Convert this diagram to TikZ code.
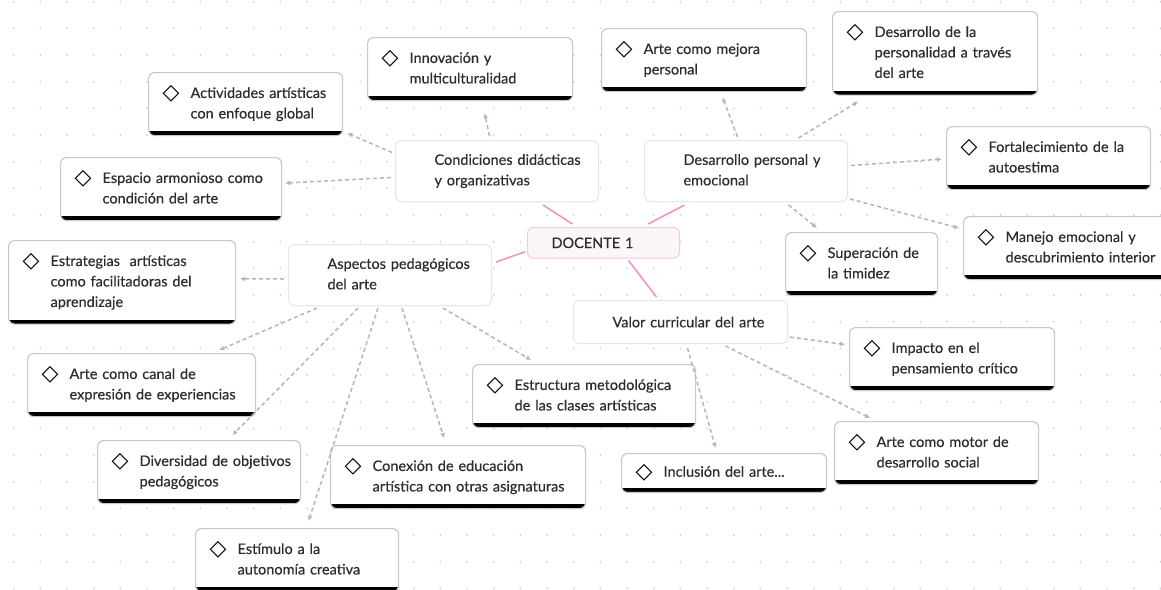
\documentclass[tikz,border=0pt]{standalone}
\usepackage{fontspec}
\setmainfont{Lato}[FakeBold=0.35]
\newfontfamily\symfont{DejaVu Sans}
\usetikzlibrary{arrows.meta}
\definecolor{inkgray}{RGB}{45, 45, 45}
\definecolor{dotgray}{RGB}{214, 214, 214}
\definecolor{leafborder}{RGB}{200, 200, 200}
\definecolor{topicborder}{RGB}{230, 230, 232}
\definecolor{rootpink}{RGB}{246, 200, 222}
\definecolor{rootfill}{RGB}{253, 246, 249}
\definecolor{linkpink}{RGB}{238, 150, 200}
\definecolor{arrowgray}{RGB}{180, 180, 198}
\tikzstyle{leaf}=[shape=rectangle, rounded corners=6pt, draw=leafborder, line width=1.2pt, fill=white, anchor=north west, align=left, inner xsep=14pt, inner ysep=11pt, path picture={\fill[black, sharp corners] (path picture bounding box.south west) rectangle ([yshift=4.5pt]path picture bounding box.south east);}]
\tikzstyle{topic}=[shape=rectangle, rounded corners=6pt, draw=topicborder, line width=1pt, fill=white, anchor=north west, align=left, inner xsep=14pt, inner ysep=10pt]
\tikzstyle{root}=[topic, draw=rootpink, fill=rootfill]
\tikzstyle{arrow}=[line width=1.5pt, dash pattern=on 4pt off 3pt, -{Latex[length=5pt, width=5pt]}, color=arrowgray]
\tikzstyle{link}=[line width=1.6pt, color=linkpink]
\newcommand{\dmd}{\makebox[28pt][l]{\raisebox{-2pt}{\symfont\fontsize{22}{22}\selectfont\color{black}\char"25C7}}}
\newcommand{\stack}[1]{\begin{tabular}[t]{@{}l@{}}#1\end{tabular}}

\begin{document}
\begin{tikzpicture}[x=1pt, y=-1pt, font=\fontsize{14.5}{20.5}\selectfont, text=inkgray]
    \fill[white] (0,0) rectangle (1161,589);
    \useasboundingbox (0,0) rectangle (1161,589);
    % Dotted canvas
    \foreach \i in {0,...,43}
        \foreach \j in {0,...,22}
            \fill[dotgray] (13.7+26.67*\i, 1.7+26.67*\j) circle (1.1pt);

    % Centre and main topics
    \node[root, text width=124pt] (docente) at (527,227) {\hspace*{10pt}DOCENTE 1};
    \node[topic, text width=175pt] (cond) at (395,140) {\hspace*{25pt}\stack{Condiciones didácticas\\y organizativas}};
    \node[topic, text width=175pt] (despers) at (644,140) {\hspace*{25pt}\stack{Desarrollo personal y\\emocional}};
    \node[topic, text width=175pt] (aspectos) at (288,244) {\hspace*{25pt}\stack{Aspectos pedagógicos\\del arte}};
    \node[topic, text width=186pt, minimum height=43pt] (valor) at (573,300) {\hspace*{25pt}Valor curricular del arte};

    % Leaves of the didactic conditions
    \node[leaf, text width=177pt] (innov) at (367,37) {\dmd\stack{Innovación y\\multiculturalidad}};
    \node[leaf, text width=166pt] (activ) at (148,72) {\dmd\stack{Actividades artísticas\\con enfoque global}};
    \node[leaf, text width=193pt] (espacio) at (60,157) {\dmd\stack{Espacio armonioso como\\condición del arte}};

    % Leaves of personal development
    \node[leaf, text width=177pt] (mejora) at (601,28) {\dmd\stack{Arte como mejora\\personal}};
    \node[leaf, text width=177pt] (personalidad) at (832,11) {\dmd\stack{Desarrollo de la\\personalidad a través\\del arte}};
    \node[leaf, text width=176pt] (autoestima) at (946,126) {\dmd\stack{Fortalecimiento de la\\autoestima}};
    \node[leaf, text width=124pt] (timidez) at (785,232) {\dmd\stack{Superación de\\la timidez}};
    \node[leaf, text width=184pt] (manejo) at (963,216) {\dmd\stack{Manejo emocional y\\descubrimiento interior}};

    % Leaves of the pedagogical aspects
    \node[leaf, text width=199pt] (estrategias) at (8,240) {\dmd\stack{Estrategias\ \ artísticas\\como facilitadoras del\\aprendizaje}};
    \node[leaf, text width=200pt] (canal) at (27,353) {\dmd\stack{Arte como canal de\\expresión de experiencias}};
    \node[leaf, text width=175pt] (diversidad) at (97,440) {\dmd\stack{Diversidad de objetivos\\pedagógicos}};
    \node[leaf, text width=227pt] (conexion) at (330,445) {\dmd\stack{Conexión de educación\\artística con otras asignaturas}};
    \node[leaf, text width=175pt] (estimulo) at (195,528) {\dmd\stack{Estímulo a la\\autonomía creativa}};
    \node[leaf, text width=195pt] (estructura) at (472,364) {\dmd\stack{Estructura metodológica\\de las clases artísticas}};

    % Leaves of the curricular value
    \node[leaf, text width=177pt] (inclusion) at (621,453) {\dmd Inclusión del arte...};
    \node[leaf, text width=177pt] (impacto) at (849,327) {\dmd\stack{Impacto en el\\pensamiento crítico}};
    \node[leaf, text width=176pt] (motor) at (834,421) {\dmd\stack{Arte como motor de\\desarrollo social}};

    % Links from the centre
    \draw[link] ([shift={(46,3)}]cond.south) -- ([shift={(-31,-3)}]docente.north);
    \draw[link] ([shift={(-61.5,3)}]despers.south) -- ([shift={(44.7,-3)}]docente.north);
    \draw[link] ([shift={(4,-13)}]aspectos.east) -- ([shift={(-2,9)}]docente.west);
    \draw[link] ([shift={(25,2)}]docente.south) -- ([shift={(-24,-3)}]valor.north);

    % Dashed arrows to the leaves
    \draw[arrow] ([shift={(-7.5,-4)}]cond.north) -- ([shift={(14.5,12)}]innov.south);
    \draw[arrow] ([shift={(-3,-18.5)}]cond.west) -- ([shift={(4,-3)}]activ.south east);
    \draw[arrow] ([shift={(-4,6.5)}]cond.west) -- ([shift={(3,-6)}]espacio.east);

    \draw[arrow] ([shift={(-8.5,-3)}]despers.north) -- ([shift={(18.5,5)}]mejora.south);
    \draw[arrow] ([shift={(52.5,-2)}]despers.north) -- ([shift={(26,6)}]personalidad.south west);
    \draw[arrow] ([shift={(3,-5.5)}]despers.east) -- ([shift={(-4,1)}]autoestima.west);
    \draw[arrow] ([shift={(42.5,3)}]despers.south) -- ([shift={(32,-4)}]timidez.north west);
    \draw[arrow] ([shift={(2,-3)}]despers.south east) -- ([shift={(-4,12)}]manejo.north west);

    \draw[arrow] ([shift={(-4,4)}]aspectos.west) -- ([shift={(4,-3.5)}]estrategias.east);
    \draw[arrow] ([shift={(29,2)}]aspectos.south west) -- ([shift={(-37,-3)}]canal.north east);
    \draw[arrow] ([shift={(70,2)}]aspectos.south west) -- ([shift={(33.5,-5)}]diversidad.north);
    \draw[arrow] ([shift={(90,2)}]aspectos.south west) -- ([shift={(11.5,-7)}]estimulo.north);
    \draw[arrow] ([shift={(114,2)}]aspectos.south west) -- ([shift={(-14,-7)}]conexion.north);
    \draw[arrow] ([shift={(155,2)}]aspectos.south west) -- ([shift={(-53,-4)}]estructura.north);

    \draw[arrow] ([shift={(7,4)}]valor.south) -- ([shift={(-8.5,-5)}]inclusion.north);
    \draw[arrow] ([shift={(2,15)}]valor.east) -- ([shift={(-4,-14.5)}]impacto.west);
    \draw[arrow] ([shift={(45,2)}]valor.south) -- ([shift={(36,-3)}]motor.north west);
\end{tikzpicture}
\end{document}
